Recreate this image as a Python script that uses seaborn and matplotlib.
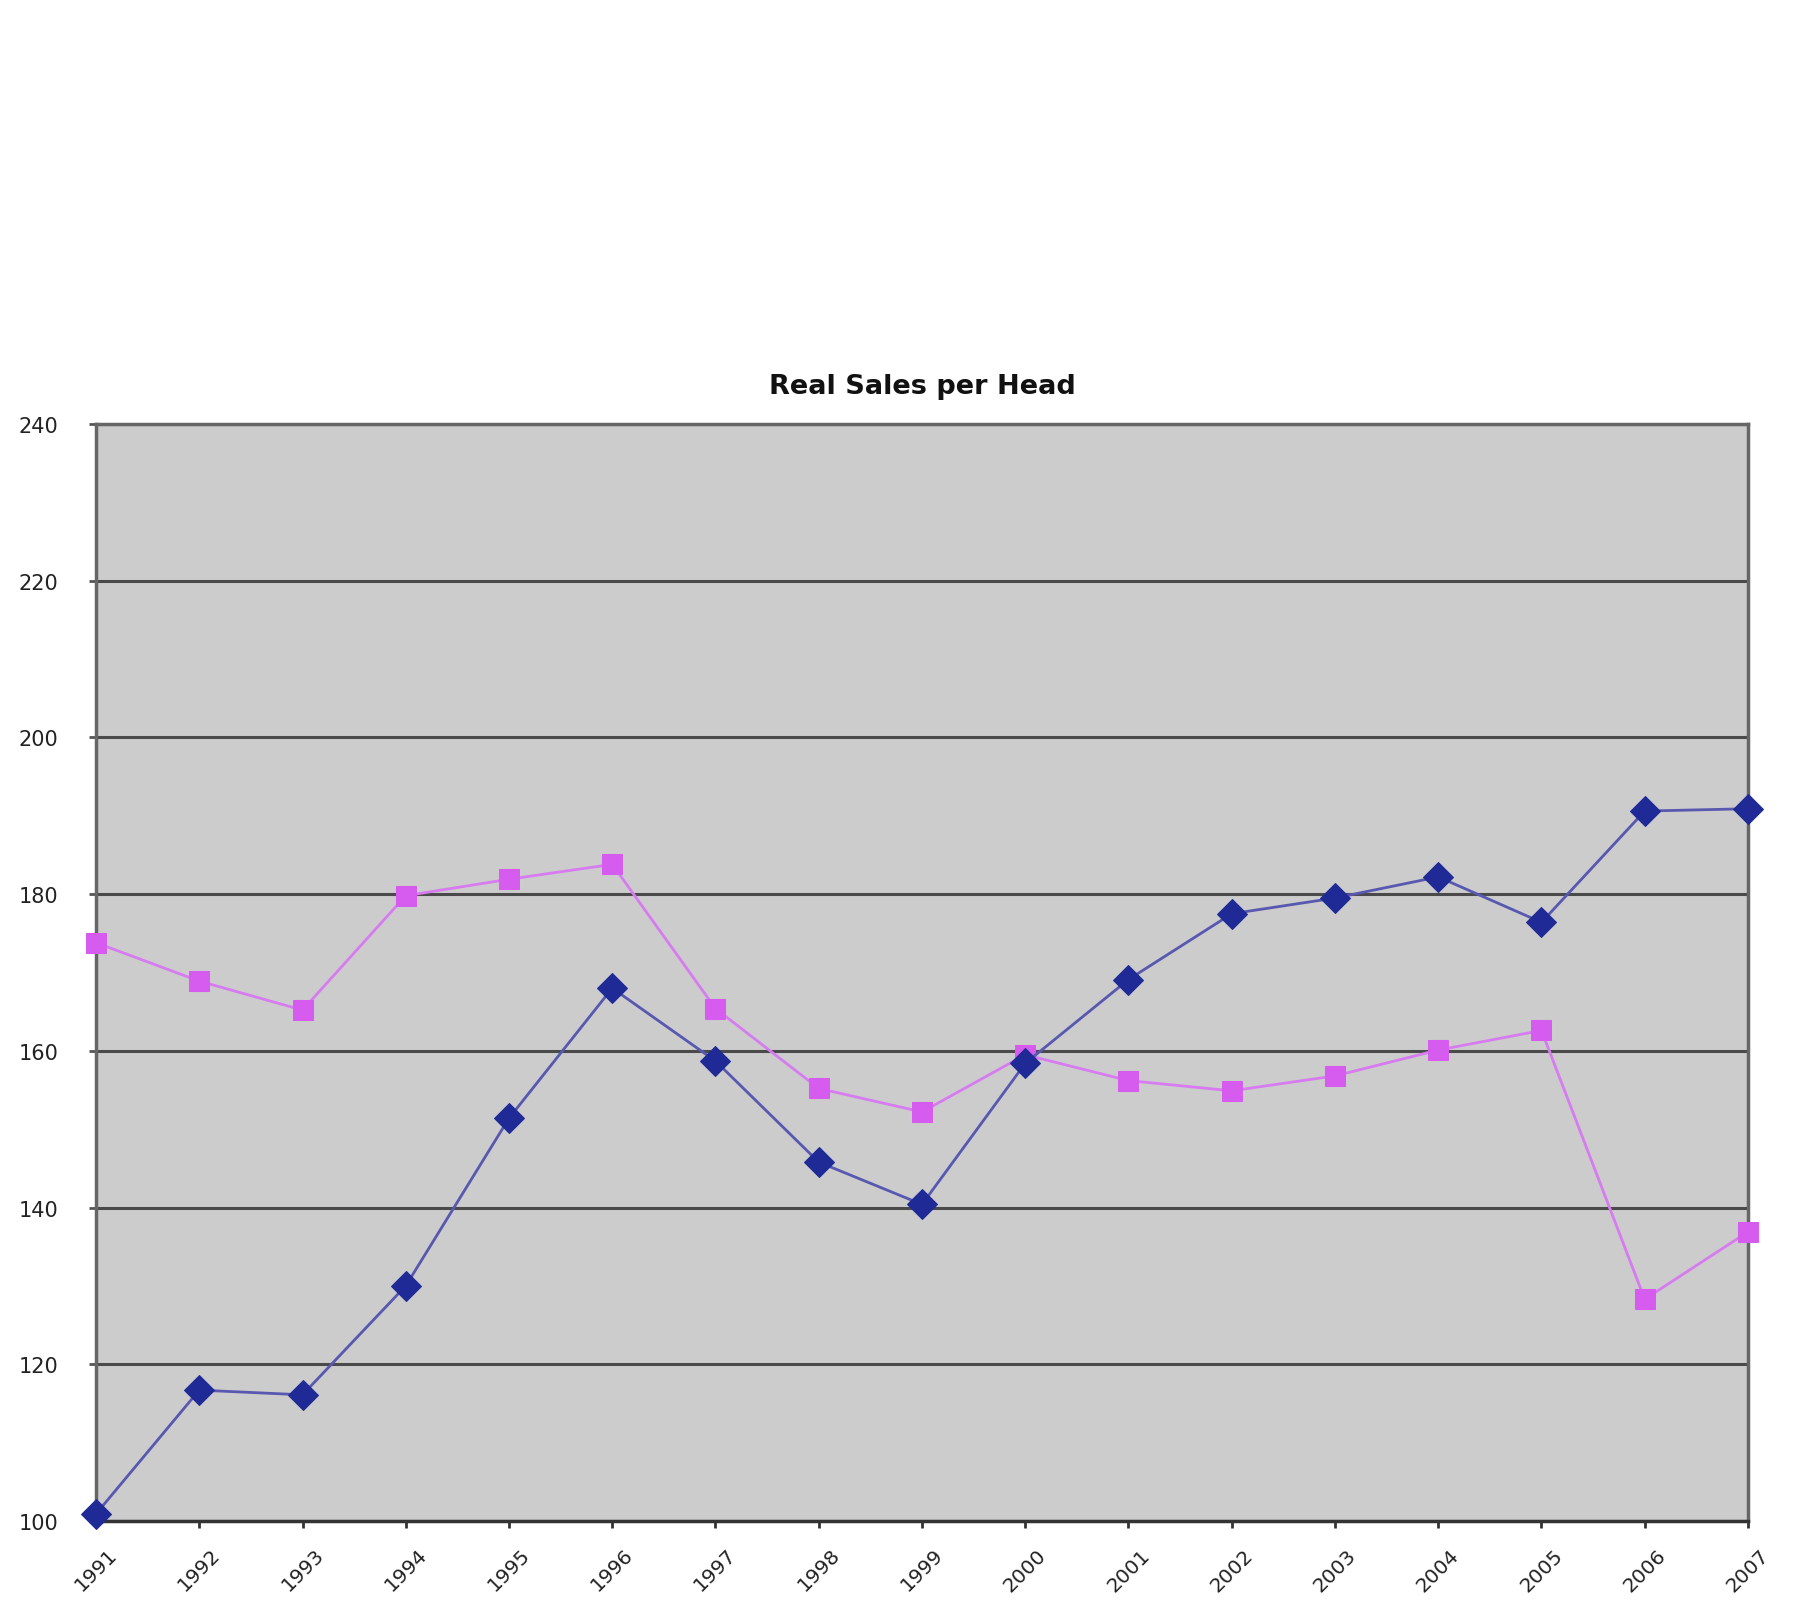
import pandas as pd
import numpy as np
import matplotlib.pyplot as plt
import seaborn as sns

# =========================
# DATA
# =========================
years = list(range(1991, 2008))
series_blue = [100.9, 116.7, 116.1, 130.0, 151.4, 168.0, 158.7, 145.8, 140.4,
               158.4, 169.1, 177.5, 179.5, 182.2, 176.4, 190.6, 190.9]
series_pink = [173.8, 168.9, 165.2, 179.8, 181.9, 183.8, 165.4, 155.2, 152.2,
               159.5, 156.2, 154.9, 156.8, 160.1, 162.6, 128.3, 136.9]
y_ticks = [100, 120, 140, 160, 180, 200, 220, 240]
title = "Real Sales per Head"

df = pd.DataFrame({"year": years, "blue": series_blue, "pink": series_pink})

# =========================
# STYLE
# =========================
sns.set_style("white")
plt.rcParams["font.family"] = ["DejaVu Sans"]

fig = plt.figure(figsize=(18.08, 16.08), dpi=100)
ax = fig.add_axes([0.0531, 0.0535, 0.9137, 0.6822])
ax.set_facecolor("#cccccc")

# pink series (drawn first, blue sits on top)
sns.lineplot(data=df, x="year", y="pink", ax=ax, color="#d77cf0", linewidth=2,
             marker="s", markersize=15, markerfacecolor="#d65cf0",
             markeredgecolor="#d65cf0", zorder=3, clip_on=False)
# blue series
sns.lineplot(data=df, x="year", y="blue", ax=ax, color="#5858b0", linewidth=2,
             marker="D", markersize=15, markerfacecolor="#1f2a96",
             markeredgecolor="#1f2a96", zorder=4, clip_on=False)

# =========================
# AXES
# =========================
ax.set_xlim(1991, 2007)
ax.set_ylim(100, 240)
ax.set_xticks(years)
ax.set_xticklabels([str(y) for y in years], rotation=45, ha="center",
                   fontsize=14.5, color="#222222")
ax.set_yticks(y_ticks)
ax.set_yticklabels([str(v) for v in y_ticks], fontsize=15, color="#222222")
ax.tick_params(axis="x", length=5, width=2, color="#333333", pad=12,
               direction="out", bottom=True)
ax.tick_params(axis="y", length=5, width=2, color="#555555", pad=22,
               direction="out", left=True)

ax.grid(axis="y", color="#4a4a4a", linewidth=2.2, zorder=1)
ax.grid(axis="x", visible=False)
ax.set_axisbelow(True)

for side in ["left", "right", "top"]:
    ax.spines[side].set_color("#666666")
    ax.spines[side].set_linewidth(2.5)
ax.spines["bottom"].set_color("#333333")
ax.spines["bottom"].set_linewidth(2.5)

ax.set_xlabel("")
ax.set_ylabel("")
ax.set_title(title, fontsize=19.5, fontweight="bold", pad=22, color="#111111")

plt.savefig("out.png", dpi=100)
plt.close()
